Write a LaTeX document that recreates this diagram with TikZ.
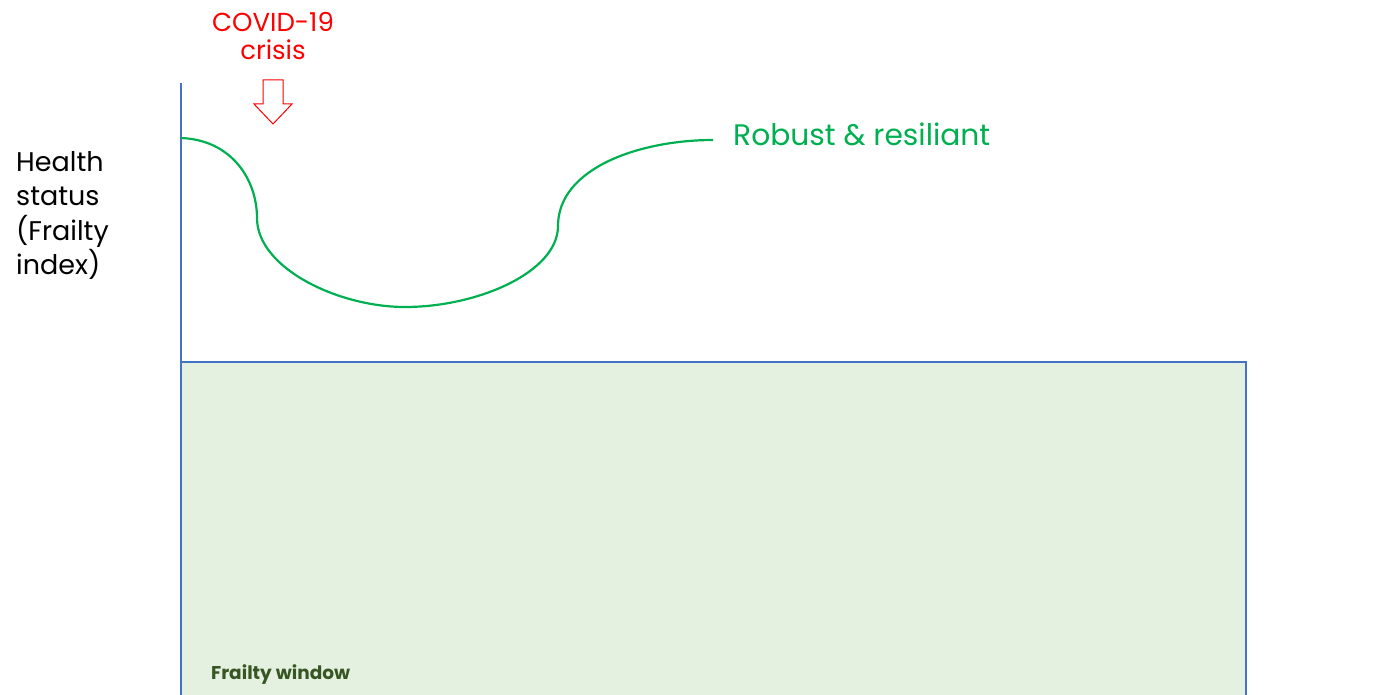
\documentclass[tikz,border=0pt]{standalone}
\usepackage{fontspec}
\setmainfont{Poppins}
\usepackage{tikz}
\usetikzlibrary{positioning}
\definecolor{axisblue}{HTML}{4472C4}
\definecolor{curvegreen}{HTML}{00B050}
\definecolor{windowbg}{HTML}{E5F1E0}
\definecolor{windowtxt}{HTML}{375623}
\tikzset{
  lbl/.style    = {font=\fontsize{27}{34.5}\selectfont, align=left, inner sep=0pt},
  crisis/.style = {font=\fontsize{26}{28}\selectfont, text=red, align=center, inner sep=0pt},
  axis/.style   = {draw=axisblue, line width=1.6pt},
  curve/.style  = {draw=curvegreen, line width=2.2pt},
}
\begin{document}
\begin{tikzpicture}[x=1pt, y=-1pt]
  \useasboundingbox (0,0) rectangle (1381,695);
  % frailty window
  \draw[axis, fill=windowbg] (181,362) rectangle (1246,700);
  \node[anchor=west, inner sep=0pt, text=windowtxt, font=\fontsize{18.5}{20}\selectfont\bfseries] (fw) at (211,675) {Frailty window};
  % y axis
  \coordinate (ytop) at (181,83);
  \coordinate (ybot) at (181,700);
  \draw[axis] (ytop) -- (ybot);
  \node[lbl, anchor=north west] (ylab) at (16,151) {Health\\status\\(Frailty\\index)};
  % crisis
  \node[crisis] (covid) at (273,36) {COVID-19\\crisis};
  \draw[red, line width=1pt, fill=white]
    (263,80) -- (283,80) -- (283,104) -- (292,104) -- (273,124) -- (254,104) -- (263,104) -- cycle;
  % trajectory
  \coordinate (start) at (181,138);
  \coordinate (end) at (713,140);
  \draw[curve] (start) .. controls (232,140) and (257,180) .. (257,218)
    .. controls (257,268) and (338,307) .. (405,307)
    .. controls (478,307) and (558,272) .. (558,226)
    .. controls (558,168) and (640,140) .. (end);
  \node[anchor=west, inner sep=0pt, text=curvegreen, font=\fontsize{29.7}{32}\selectfont] (robust) at (733,134) {Robust \& resiliant};
\end{tikzpicture}
\end{document}
